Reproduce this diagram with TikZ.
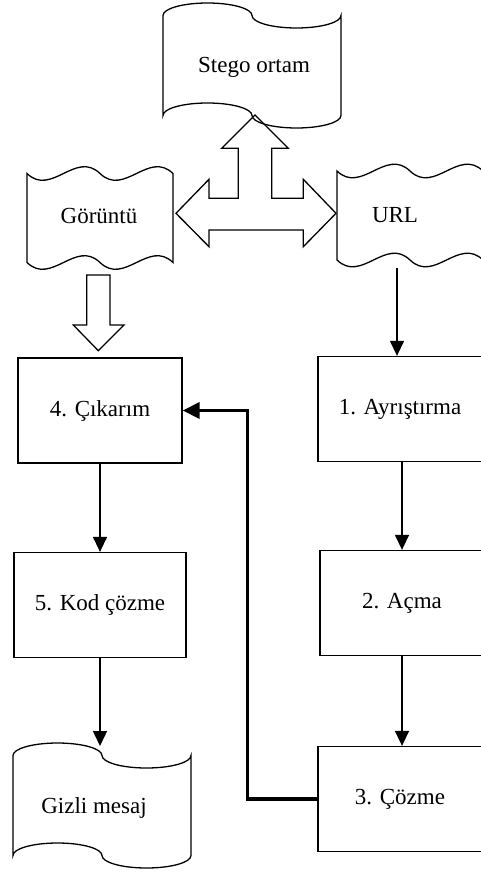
\documentclass[tikz,border=0pt]{standalone}
\usepackage{fontspec}
\setmainfont{Liberation Serif}
\usetikzlibrary{arrows.meta}
\begin{document}
\begin{tikzpicture}[x=1pt,y=1pt,yscale=-1,
  every node/.style={font=\fontsize{23}{27}\selectfont},
  procbox/.style={draw, line width=1.3pt, minimum width=164pt, minimum height=105pt, inner sep=0pt},
  flow/.style={line width=1.4pt, -{Triangle[length=15pt,width=14pt]}},
  backflow/.style={line width=3.5pt, -{Triangle[length=17pt,width=16pt]}},
  outline/.style={line width=1.3pt},
  hollow/.style={line width=1.3pt},
  % punched-tape medium: one half-ellipse dip and one bump on each edge
  pics/tape/.style={code={
    \draw[outline] (-89,-50)
      arc[start angle=180,end angle=0,x radius=44.5pt,y radius=12.5pt]
      arc[start angle=180,end angle=360,x radius=44.5pt,y radius=12.5pt]
      -- (89,50)
      arc[start angle=0,end angle=-180,x radius=44.5pt,y radius=12.5pt]
      arc[start angle=0,end angle=180,x radius=44.5pt,y radius=12.5pt]
      -- cycle;
  }},
  % double-wave medium: two wave periods on top and bottom edges
  pics/doublewave/.style={code={
    \draw[outline] (-73,-44.5)
      .. controls (-48.67,-68) and (-24.33,-21) .. (0,-44.5)
      .. controls (24.33,-68) and (48.67,-21) .. (73,-44.5)
      -- (73,44.5)
      .. controls (48.67,68) and (24.33,21) .. (0,44.5)
      .. controls (-24.33,68) and (-48.67,21) .. (-73,44.5)
      -- cycle;
  }}
]
\useasboundingbox (0,0) rectangle (480,874);

% media shapes
\pic at (252,65.5) {tape};
\pic at (102,805.5) {tape};
\pic at (100,218) {doublewave};
\pic at (410,215.5) {doublewave};

\node (stego) at (254,67) {Stego ortam};
\node (img) at (99,216) {Görüntü};
\node (url) at (395,215) {URL};
\node (secret) at (94,808) {Gizli mesaj};

% process steps
\node[procbox] (b1) at (400,409) {1. Ayrıştırma};
\node[procbox] (b2) at (402,603) {2. Açma};
\node[procbox] (b3) at (400,799) {3. Çözme};
\node[procbox] (b4) at (100,410.5) {4. Çıkarım};
\node[procbox, minimum width=172pt] (b5) at (100,605) {5. Kod çözme};

% connectors
\coordinate (urlout) at (397,268);
\coordinate (secretin) at (100,746);
\draw[flow] (urlout) -- (urlout |- b1.north);
\draw[flow] (b1.south -| b2.north) -- (b2.north);
\draw[flow] (b2.south) -- (b3.north -| b2.south);
\draw[flow] (b4.south) -- (b5.north);
\draw[flow] (b5.south) -- (secretin);
\draw[backflow] (b3.west) -- ++(-70,0) |- (b4.east);

% hollow block arrows
\draw[hollow] (176,213.3) -- (209,179.3) -- (209,198.3) -- (238.3,198.3)
  -- (238.3,148.3) -- (221.7,148.3) -- (255,115) -- (288.3,148.3)
  -- (271.7,148.3) -- (271.7,198.3) -- (303.3,198.3) -- (303.3,179.3)
  -- (336,213.3) -- (303.3,246.7) -- (303.3,230) -- (209,230)
  -- (209,246.7) -- cycle;
\draw[hollow] (86.7,275) -- (110,275) -- (110,325) -- (124,325)
  -- (98.3,350.7) -- (73.3,325) -- (86.7,325) -- cycle;
\end{tikzpicture}
\end{document}
